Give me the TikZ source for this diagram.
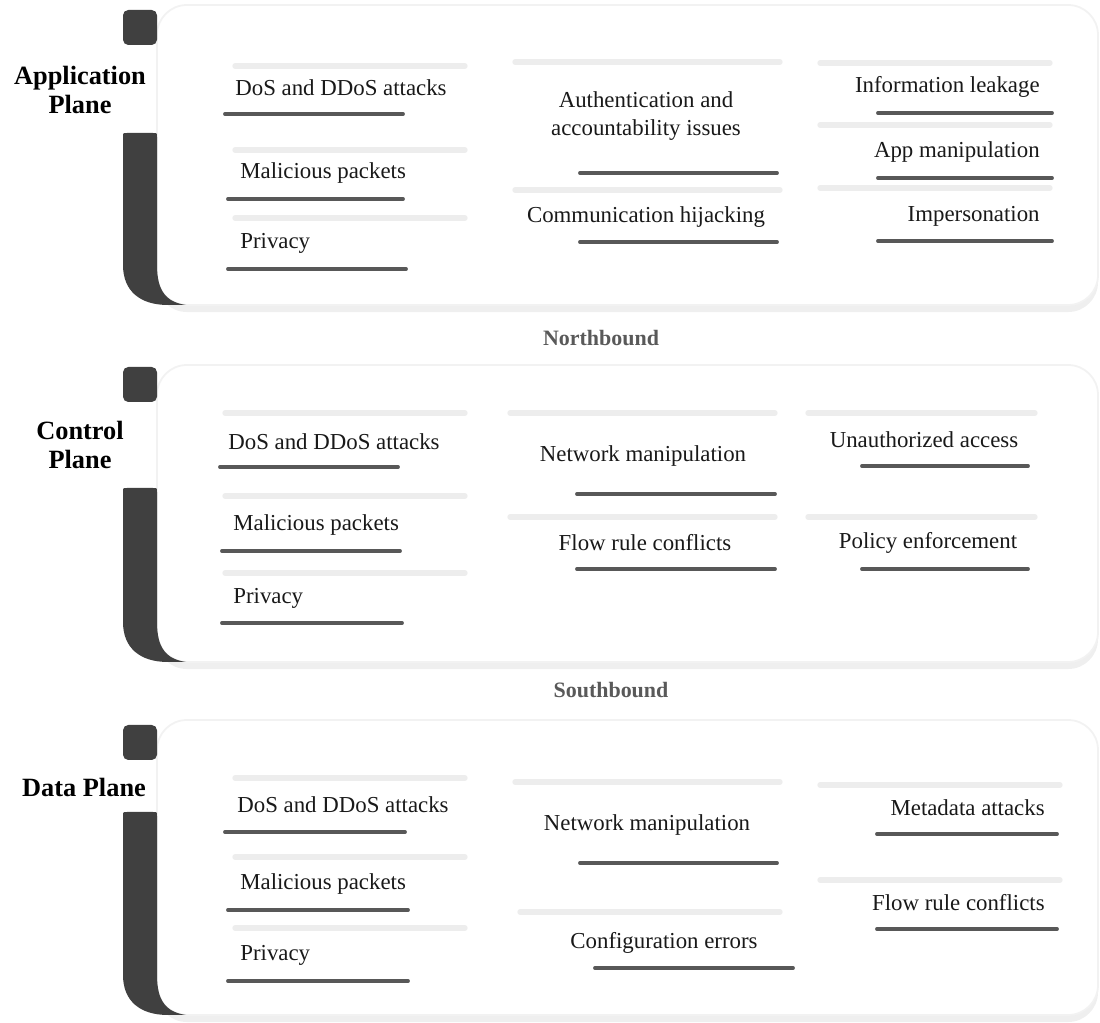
\documentclass[tikz,border=0pt]{standalone}
\usepackage{fontspec}
\setmainfont{Liberation Serif}
\usepackage{tikz}
\usetikzlibrary{
  shadows,%
  positioning
}
\definecolor{bardark}{HTML}{404040}
\definecolor{rulegray}{HTML}{585858}
\tikzset{
  panel/.style={fill=white, draw=black!5, line width=1pt, rounded corners=17pt,
    drop shadow={shadow xshift=0pt, shadow yshift=-4pt, opacity=0.13, fill=black!50}},
  planebar/.style={fill=bardark},
  item/.style={font=\fontsize{13}{16}\selectfont, inner sep=0pt, text=black!90},
  planelabel/.style={font=\fontsize{15}{17}\selectfont\bfseries, align=center, inner sep=0pt},
  bound/.style={font=\fontsize{12.5}{14}\selectfont\bfseries, text=black!65, inner sep=0pt},
  darkrule/.style={draw=rulegray, line width=2.2pt, line cap=round},
  faintrule/.style={draw=black!7, line width=3pt, line cap=round},
}

\begin{document}
\begin{tikzpicture}[x=0.02cm, y=-0.02cm]
  \useasboundingbox (0,0) rectangle (1100,1023);
  % panels and dark side bars
  \foreach \t/\sq/\bs/\b in {5/10/133/305, 365/367/488/662, 720/725/812/1015} {
    \path[panel] (157,\t) rectangle (1098,\b);
    \fill[planebar, rounded corners=3pt] (123,\sq) rectangle (157,\sq+35);
    \fill[planebar] (123,\b-40) -- (123,\bs+4) .. controls (123,\bs) .. (127,\bs)
      -- (153,\bs) .. controls (157,\bs) .. (157,\bs+4) -- (157,\b-40)
      .. controls (157,\b-14) and (166,\b-3) .. (186,\b)
      -- (168,\b) .. controls (140,\b) and (123,\b-14) .. (123,\b-40) -- cycle;
  }

  % application plane
  \node[planelabel] (applabel) at (80,90) {Application\\Plane};
  \draw[faintrule] (235,66) -- (465,66);
  \draw[faintrule] (235,150) -- (465,150);
  \draw[faintrule] (235,218) -- (465,218);
  \draw[faintrule] (515,62) -- (780,62);
  \draw[faintrule] (515,190) -- (780,190);
  \draw[faintrule] (820,63) -- (1050,63);
  \draw[faintrule] (820,125) -- (1050,125);
  \draw[faintrule] (820,188) -- (1050,188);
  \node[item, anchor=west] (appdos) at (235,88) {DoS and DDoS attacks};
  \node[item, anchor=west] (appmal) at (240,173) {Malicious packets};
  \node[item, anchor=west] (apppriv) at (240,243) {Privacy};
  \node[item, align=center] (appauth) at (646,116) {Authentication and\\accountability issues};
  \node[item] (apphijack) at (646,217) {Communication hijacking};
  \node[item, anchor=east] (appleak) at (1040,87) {Information leakage};
  \node[item, anchor=east] (appmanip) at (1040,152) {App manipulation};
  \node[item, anchor=east] (appimp) at (1040,216) {Impersonation};
  \draw[darkrule] (225,114) -- (403,114);
  \draw[darkrule] (228,199) -- (403,199);
  \draw[darkrule] (228,269) -- (406,269);
  \draw[darkrule] (580,173) -- (777,173);
  \draw[darkrule] (580,242) -- (777,242);
  \draw[darkrule] (878,113) -- (1052,113);
  \draw[darkrule] (878,178) -- (1052,178);
  \draw[darkrule] (878,241) -- (1052,241);

  \node[bound] (north) at (601,338) {Northbound};

  % control plane
  \node[planelabel] (ctllabel) at (80,445) {Control\\Plane};
  \draw[faintrule] (225,413) -- (465,413);
  \draw[faintrule] (225,496) -- (465,496);
  \draw[faintrule] (225,573) -- (465,573);
  \draw[faintrule] (510,413) -- (775,413);
  \draw[faintrule] (510,517) -- (775,517);
  \draw[faintrule] (808,413) -- (1035,413);
  \draw[faintrule] (808,517) -- (1035,517);
  \node[item, anchor=west] (ctldos) at (228,442) {DoS and DDoS attacks};
  \node[item, anchor=west] (ctlmal) at (233,525) {Malicious packets};
  \node[item, anchor=west] (ctlpriv) at (233,598) {Privacy};
  \node[item] (ctlnet) at (643,456) {Network manipulation};
  \node[item] (ctlflow) at (645,543) {Flow rule conflicts};
  \node[item] (ctlunauth) at (924,440) {Unauthorized access};
  \node[item] (ctlpolicy) at (928,543) {Policy enforcement};
  \draw[darkrule] (220,467) -- (398,467);
  \draw[darkrule] (222,551) -- (400,551);
  \draw[darkrule] (222,623) -- (402,623);
  \draw[darkrule] (577,494) -- (775,494);
  \draw[darkrule] (577,569) -- (775,569);
  \draw[darkrule] (862,466) -- (1028,466);
  \draw[darkrule] (862,569) -- (1028,569);

  \node[bound] (south) at (611,690) {Southbound};

  % data plane
  \node[planelabel] (datalabel) at (84,787) {Data Plane};
  \draw[faintrule] (235,778) -- (465,778);
  \draw[faintrule] (235,857) -- (465,857);
  \draw[faintrule] (235,928) -- (465,928);
  \draw[faintrule] (515,782) -- (780,782);
  \draw[faintrule] (520,912) -- (780,912);
  \draw[faintrule] (820,785) -- (1060,785);
  \draw[faintrule] (820,880) -- (1060,880);
  \node[item, anchor=west] (datados) at (237,805) {DoS and DDoS attacks};
  \node[item, anchor=west] (datamal) at (240,884) {Malicious packets};
  \node[item, anchor=west] (datapriv) at (240,955) {Privacy};
  \node[item] (datanet) at (647,825) {Network manipulation};
  \node[item] (datacfg) at (664,943) {Configuration errors};
  \node[item, anchor=east] (datameta) at (1045,808) {Metadata attacks};
  \node[item, anchor=east] (dataflow) at (1045,903) {Flow rule conflicts};
  \draw[darkrule] (225,832) -- (405,832);
  \draw[darkrule] (228,910) -- (408,910);
  \draw[darkrule] (228,981) -- (408,981);
  \draw[darkrule] (580,863) -- (777,863);
  \draw[darkrule] (595,968) -- (793,968);
  \draw[darkrule] (877,834) -- (1057,834);
  \draw[darkrule] (877,929) -- (1057,929);
\end{tikzpicture}
\end{document}
